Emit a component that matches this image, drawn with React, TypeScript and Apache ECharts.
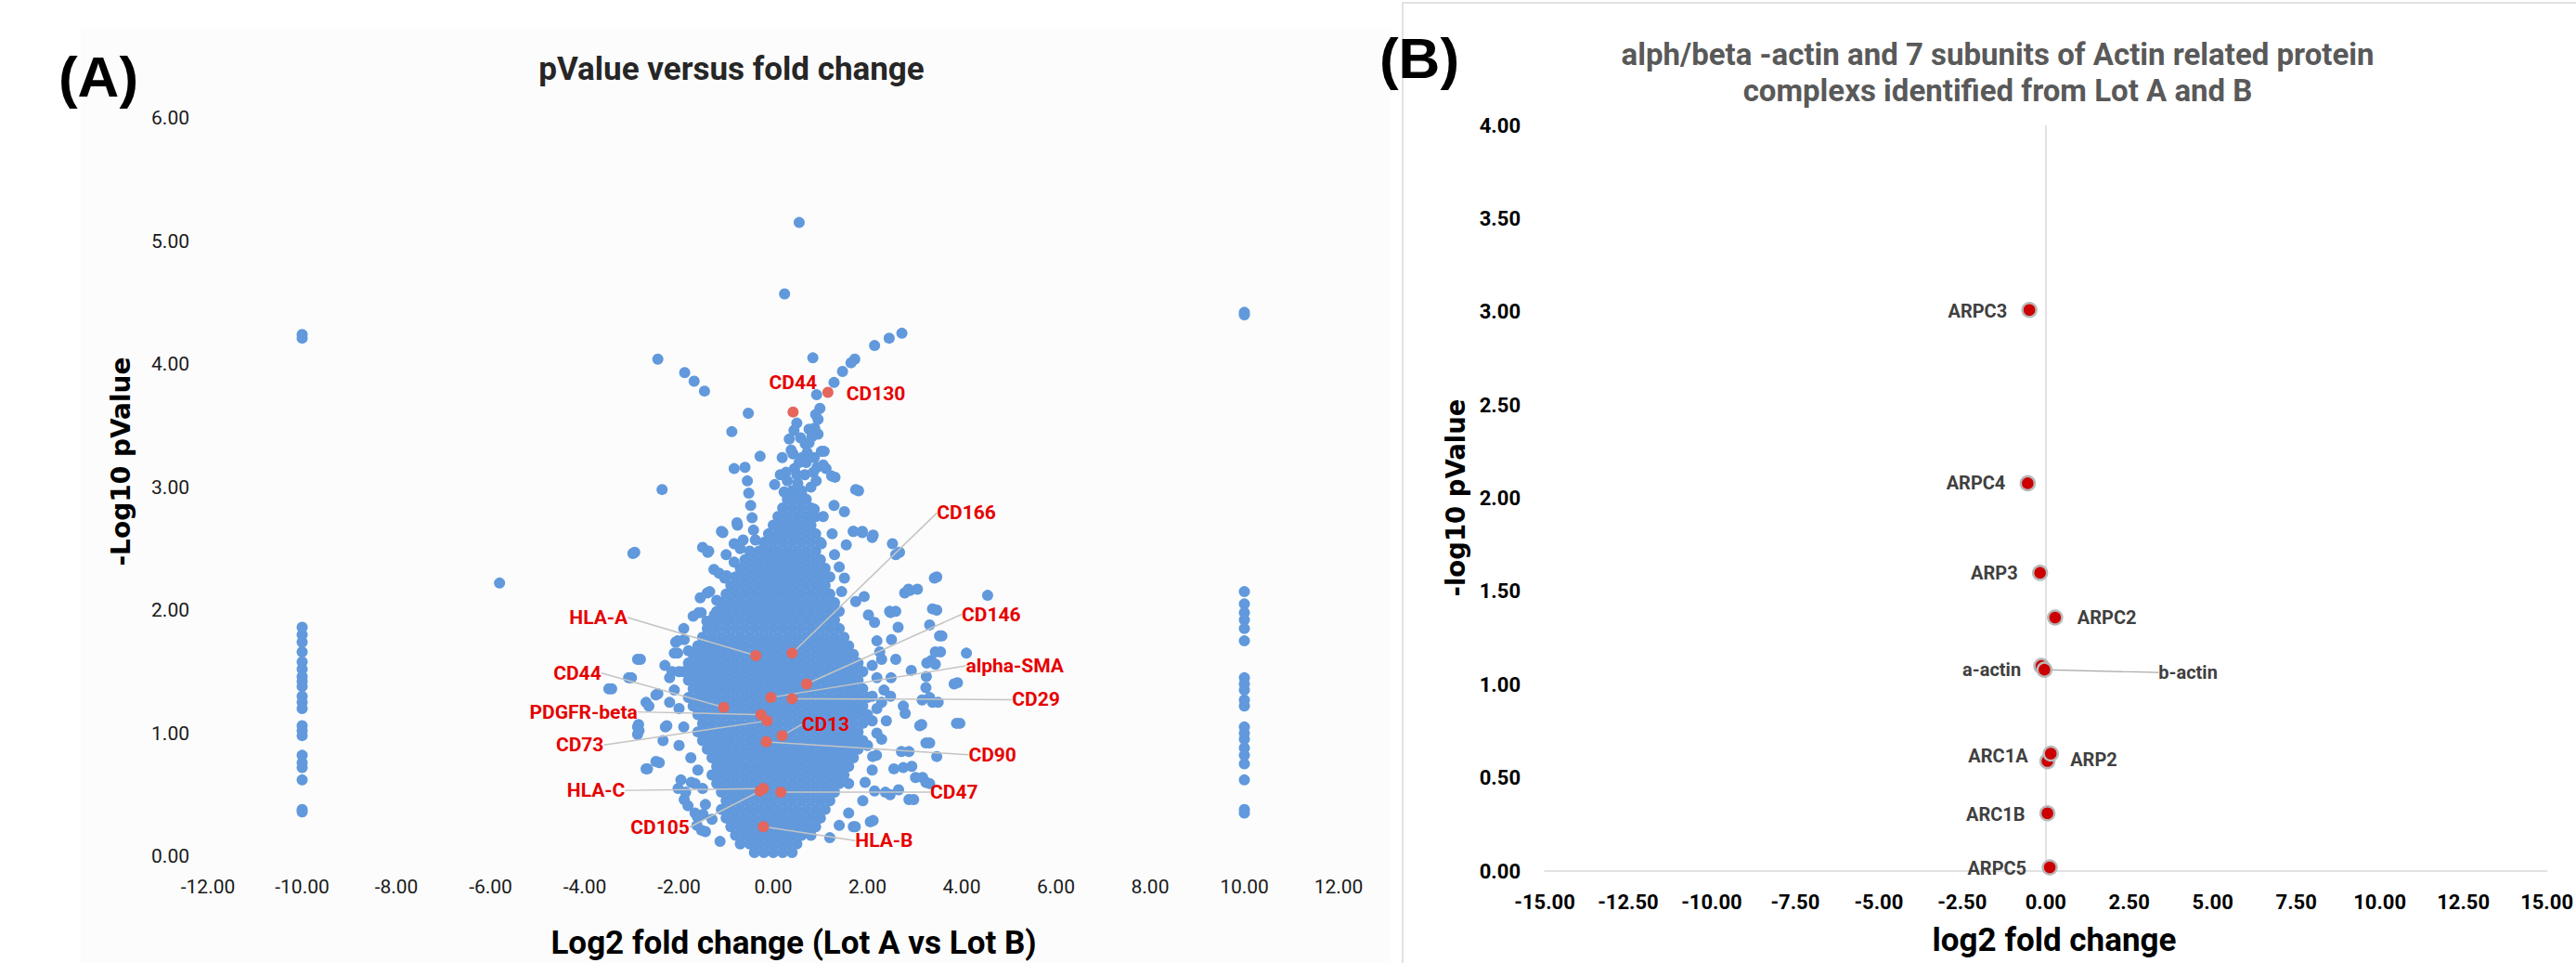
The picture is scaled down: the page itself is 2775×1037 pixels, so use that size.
import React, { useEffect, useRef } from "react";
import * as echarts from "echarts";

// ---------------- Panel A data ----------------
const A_X_MIN = -12;
const A_X_MAX = 12;
const A_X_STEP = 2;
const A_Y_MIN = 0;
const A_Y_MAX = 6;
const A_Y_STEP = 1;

// proteins only seen in one lot (log2 fold change pinned at -10 / +10)
const LEFT_COLUMN_X = -10;
const LEFT_COLUMN_Y = [4.24, 4.21, 1.86, 1.8, 1.74, 1.66, 1.58, 1.52, 1.46, 1.42, 1.38, 1.3, 1.25, 1.2, 1.06, 1.02, 0.98, 0.82, 0.76, 0.72, 0.62, 0.38, 0.36];
const RIGHT_COLUMN_X = 10;
const RIGHT_COLUMN_Y = [4.42, 4.4, 2.15, 2.05, 1.98, 1.92, 1.85, 1.75, 1.45, 1.4, 1.35, 1.27, 1.22, 1.05, 1.0, 0.95, 0.88, 0.82, 0.75, 0.62, 0.38, 0.35];

// scattered proteins read one by one
const SCATTERED_POINTS: [number, number][] = [
  [-5.81, 2.22], [-2.98, 2.46], [-2.36, 2.98], [-2.45, 4.04], [-1.88, 3.93], [-1.68, 3.86], [-1.46, 3.78],
  [-0.88, 3.45], [-0.53, 3.6], [-0.28, 3.25], [0.24, 4.57], [0.55, 5.15], [0.84, 4.05],
  [0.92, 3.75], [0.99, 3.64], [0.9, 3.59], [1.29, 3.85], [1.47, 3.94], [1.65, 4.01], [1.73, 4.04], [2.15, 4.15], [2.46, 4.21], [2.73, 4.25],
  [0.44, 3.46], [0.34, 3.39], [0.68, 3.35], [0.95, 3.43], [0.76, 3.47], [1.08, 3.29], [0.19, 3.24], [0.42, 3.27], [0.61, 3.24],
  [0.87, 3.24], [1.06, 3.18], [1.12, 3.15], [0.27, 3.12], [0.67, 3.1], [1.31, 3.08], [0.91, 3.05], [0.03, 3.02], [1.81, 2.97],
  [0.52, 3.03], [0.23, 2.96], [0.87, 2.82], [1.29, 2.85], [1.51, 2.8], [1.06, 2.76], [1.7, 2.64], [1.89, 2.64], [2.1, 2.59],
  [1.02, 2.54], [1.55, 2.53], [2.53, 2.54], [2.68, 2.47], [-0.76, 2.69], [-1.07, 2.63], [-1.5, 2.51], [-1.37, 2.48], [-2.94, 2.47], [-0.64, 2.57],
  [0.95, 3.55], [0.88, 3.48], [0.82, 3.41], [0.76, 3.36], [0.58, 3.4], [0.5, 3.52], [0.38, 3.3],
  [0.3, 3.05], [0.45, 3.15], [0.55, 3.2], [0.7, 3.2], [0.35, 2.95], [0.6, 2.95], [0.8, 3.0], [0.15, 3.1], [0.5, 3.1], [0.72, 3.28], [0.85, 3.12],
  [-0.83, 3.15], [-0.6, 3.16], [-0.55, 3.05], [-0.52, 2.95], [-0.48, 2.85], [-0.45, 2.75], [-0.42, 2.65], [-0.38, 2.57],
  [-2.88, 1.6], [-3.07, 1.45], [-3.49, 1.36], [-2.49, 1.31], [-2.7, 1.25], [-2.88, 1.05], [-2.88, 0.99], [-2.7, 0.71], [-2.49, 0.77],
  [-2.29, 1.05], [-2.07, 1.74], [-1.89, 1.76], [-1.58, 1.98], [-1.4, 2.14], [-1.03, 2.26], [-0.83, 2.54], [-1.1, 2.64],
  [3.42, 2.26], [4.55, 2.12], [4.1, 1.65], [3.84, 1.4], [3.89, 1.08], [3.53, 1.79], [3.38, 2.01], [3.24, 1.37], [3.11, 1.06],
  [3.24, 0.92], [3.02, 0.64], [2.88, 0.46], [3.24, 0.6], [2.06, 0.28], [1.7, 0.24], [2.9, 2.16], [2.79, 2.14], [2.6, 2.45],
  [2.47, 1.99], [2.65, 1.86], [2.51, 1.76], [3.44, 1.66], [2.93, 1.51], [3.26, 1.57], [3.16, 1.27], [3.38, 1.25], [2.26, 1.66],
  [2.8, 1.16], [2.88, 0.85], [2.56, 0.71], [2.11, 0.81], [2.66, 0.54], [2.38, 0.52], [1.75, 2.07], [2.02, 1.96], [1.93, 2.11], [1.51, 2.26],
  [-2.02, 0.55], [-1.74, 0.6], [-1.89, 0.46], [-1.61, 0.32], [-1.52, 0.21], [-1.49, 0.34], [-2.34, 0.94], [-2.03, 1.65], [-1.8, 1.67],
  [-1.41, 1.91], [-1.25, 1.96], [-1.39, 2.47], [-0.77, 2.71], [-1.26, 2.33], [-0.99, 2.28], [-1.35, 2.15], [-0.83, 2.39], [-1.2, 2.08],
  [-1.53, 1.98], [-2.03, 1.75], [-2.82, 1.6], [-3.01, 1.45], [-3.43, 1.36], [-2.45, 1.32], [-2.64, 1.22], [-2.86, 1.07], [-2.85, 1.02],
  [-2.26, 1.06], [-2.67, 0.71], [-2.42, 0.76], [-1.96, 0.62], [-1.86, 0.52], [-1.66, 0.59], [-1.81, 0.41], [-1.44, 0.42], [-1.66, 0.35],
  [-1.44, 0.2], [-1.62, 0.25], [-1.13, 0.12], [3.47, 2.27], [2.87, 2.17], [3.06, 2.17], [2.6, 1.99], [2.49, 1.98], [3.47, 2.0],
  [3.32, 1.88], [3.58, 1.79], [3.55, 1.66], [3.35, 1.59], [3.44, 1.56], [3.91, 1.41], [3.25, 1.46], [3.32, 1.29], [3.5, 1.25],
  [2.76, 1.22], [2.49, 1.3], [3.15, 1.07], [3.96, 1.08], [3.32, 0.92], [3.47, 0.81], [2.72, 0.85], [2.76, 0.72], [2.94, 0.73],
  [3.17, 0.64], [3.32, 0.59], [2.98, 0.46], [2.15, 0.53], [2.48, 0.5], [2.12, 0.29], [1.74, 0.24], [2.3, 0.95], [2.19, 0.82],
  [2.12, 2.61], [1.89, 2.63], [1.7, 2.64], [1.75, 2.98], [1.24, 3.09], [1.02, 3.29], [0.93, 3.16],
  [2.2, 1.75], [2.3, 1.6], [2.2, 1.45], [2.35, 1.35], [2.2, 1.2], [2.4, 1.1], [2.2, 1.0], [2.5, 1.45], [2.6, 1.6], [2.15, 1.9],
  [2.3, 1.25], [2.1, 1.55], [2.1, 1.3], [2.1, 1.1], [2.0, 0.9], [2.1, 0.7], [1.95, 0.6], [1.9, 0.45], [1.6, 0.35], [1.4, 0.25], [1.2, 0.15],
  [-2.0, 1.5], [-2.1, 1.35], [-2.0, 1.2], [-2.2, 1.45], [-1.9, 1.05], [-2.0, 0.9], [-1.75, 0.8], [-1.6, 0.7], [-1.5, 0.55], [-1.3, 0.3],
  [-2.3, 1.55], [-2.2, 1.25], [-1.9, 1.85], [-1.7, 1.95], [-1.55, 2.1], [-2.1, 1.65], [-2.15, 1.5],
  [1.3, 2.45], [1.4, 2.35], [1.25, 2.62], [1.45, 2.15], [-0.7, 2.5], [-1.0, 2.45], [-1.15, 2.3],
];

// the dense core of the volcano, typed row by row: [-log10 p, log2 fold changes]
const CORE_ROWS: [number, number[]][] = [
  [0.03, [-0.4, -0.2, 0, 0.2, 0.4]],
  [0.10, [-0.7, -0.5, -0.3, -0.1, 0.1, 0.3, 0.5]],
  [0.17, [-0.8, -0.6, -0.4, -0.2, 0, 0.2, 0.4, 0.6, 0.8]],
  [0.24, [-0.9, -0.7, -0.5, -0.3, -0.1, 0.1, 0.3, 0.5, 0.7, 0.9]],
  [0.31, [-1.0, -0.8, -0.6, -0.4, -0.2, 0, 0.2, 0.4, 0.6, 0.8, 1.0]],
  [0.38, [-1.1, -0.9, -0.7, -0.5, -0.3, -0.1, 0.1, 0.3, 0.5, 0.7, 0.9, 1.1]],
  [0.45, [-1.0, -0.8, -0.6, -0.4, -0.2, 0, 0.2, 0.4, 0.6, 0.8, 1.0, 1.2]],
  [0.52, [-1.1, -0.9, -0.7, -0.5, -0.3, -0.1, 0.1, 0.3, 0.5, 0.7, 0.9, 1.1, 1.3]],
  [0.59, [-1.2, -1.0, -0.8, -0.6, -0.4, -0.2, 0, 0.2, 0.4, 0.6, 0.8, 1.0, 1.2, 1.4, 1.6]],
  [0.66, [-1.3, -1.1, -0.9, -0.7, -0.5, -0.3, -0.1, 0.1, 0.3, 0.5, 0.7, 0.9, 1.1, 1.3, 1.5]],
  [0.73, [-1.2, -1.0, -0.8, -0.6, -0.4, -0.2, 0, 0.2, 0.4, 0.6, 0.8, 1.0, 1.2, 1.4, 1.6]],
  [0.80, [-1.3, -1.1, -0.9, -0.7, -0.5, -0.3, -0.1, 0.1, 0.3, 0.5, 0.7, 0.9, 1.1, 1.3, 1.5, 1.7]],
  [0.87, [-1.4, -1.2, -1.0, -0.8, -0.6, -0.4, -0.2, 0, 0.2, 0.4, 0.6, 0.8, 1.0, 1.2, 1.4, 1.6, 1.8]],
  [0.94, [-1.5, -1.3, -1.1, -0.9, -0.7, -0.5, -0.3, -0.1, 0.1, 0.3, 0.5, 0.7, 0.9, 1.1, 1.3, 1.5, 1.7, 1.9]],
  [1.01, [-1.6, -1.4, -1.2, -1.0, -0.8, -0.6, -0.4, -0.2, 0, 0.2, 0.4, 0.6, 0.8, 1.0, 1.2, 1.4, 1.6, 1.8]],
  [1.08, [-1.5, -1.3, -1.1, -0.9, -0.7, -0.5, -0.3, -0.1, 0.1, 0.3, 0.5, 0.7, 0.9, 1.1, 1.3, 1.5, 1.7, 1.9]],
  [1.15, [-1.6, -1.4, -1.2, -1.0, -0.8, -0.6, -0.4, -0.2, 0, 0.2, 0.4, 0.6, 0.8, 1.0, 1.2, 1.4, 1.6, 1.8, 2.0]],
  [1.22, [-1.7, -1.5, -1.3, -1.1, -0.9, -0.7, -0.5, -0.3, -0.1, 0.1, 0.3, 0.5, 0.7, 0.9, 1.1, 1.3, 1.5, 1.7, 1.9]],
  [1.29, [-1.8, -1.6, -1.4, -1.2, -1.0, -0.8, -0.6, -0.4, -0.2, 0, 0.2, 0.4, 0.6, 0.8, 1.0, 1.2, 1.4, 1.6, 1.8, 2.0]],
  [1.36, [-1.7, -1.5, -1.3, -1.1, -0.9, -0.7, -0.5, -0.3, -0.1, 0.1, 0.3, 0.5, 0.7, 0.9, 1.1, 1.3, 1.5, 1.7, 1.9]],
  [1.43, [-1.8, -1.6, -1.4, -1.2, -1.0, -0.8, -0.6, -0.4, -0.2, 0, 0.2, 0.4, 0.6, 0.8, 1.0, 1.2, 1.4, 1.6, 1.8]],
  [1.50, [-1.9, -1.7, -1.5, -1.3, -1.1, -0.9, -0.7, -0.5, -0.3, -0.1, 0.1, 0.3, 0.5, 0.7, 0.9, 1.1, 1.3, 1.5, 1.7, 1.9]],
  [1.57, [-1.8, -1.6, -1.4, -1.2, -1.0, -0.8, -0.6, -0.4, -0.2, 0, 0.2, 0.4, 0.6, 0.8, 1.0, 1.2, 1.4, 1.6, 1.8]],
  [1.64, [-1.7, -1.5, -1.3, -1.1, -0.9, -0.7, -0.5, -0.3, -0.1, 0.1, 0.3, 0.5, 0.7, 0.9, 1.1, 1.3, 1.5, 1.7]],
  [1.71, [-1.6, -1.4, -1.2, -1.0, -0.8, -0.6, -0.4, -0.2, 0, 0.2, 0.4, 0.6, 0.8, 1.0, 1.2, 1.4, 1.6]],
  [1.78, [-1.5, -1.3, -1.1, -0.9, -0.7, -0.5, -0.3, -0.1, 0.1, 0.3, 0.5, 0.7, 0.9, 1.1, 1.3, 1.5]],
  [1.85, [-1.4, -1.2, -1.0, -0.8, -0.6, -0.4, -0.2, 0, 0.2, 0.4, 0.6, 0.8, 1.0, 1.2, 1.4]],
  [1.92, [-1.3, -1.1, -0.9, -0.7, -0.5, -0.3, -0.1, 0.1, 0.3, 0.5, 0.7, 0.9, 1.1, 1.3]],
  [1.99, [-1.2, -1.0, -0.8, -0.6, -0.4, -0.2, 0, 0.2, 0.4, 0.6, 0.8, 1.0, 1.2, 1.4]],
  [2.06, [-1.1, -0.9, -0.7, -0.5, -0.3, -0.1, 0.1, 0.3, 0.5, 0.7, 0.9, 1.1, 1.3]],
  [2.13, [-1.0, -0.8, -0.6, -0.4, -0.2, 0, 0.2, 0.4, 0.6, 0.8, 1.0, 1.2]],
  [2.20, [-0.9, -0.7, -0.5, -0.3, -0.1, 0.1, 0.3, 0.5, 0.7, 0.9, 1.1]],
  [2.27, [-0.8, -0.6, -0.4, -0.2, 0, 0.2, 0.4, 0.6, 0.8, 1.0, 1.2]],
  [2.34, [-0.7, -0.5, -0.3, -0.1, 0.1, 0.3, 0.5, 0.7, 0.9, 1.1]],
  [2.41, [-0.6, -0.4, -0.2, 0, 0.2, 0.4, 0.6, 0.8, 1.0]],
  [2.48, [-0.5, -0.3, -0.1, 0.1, 0.3, 0.5, 0.7, 0.9]],
  [2.55, [-0.2, 0, 0.2, 0.4, 0.6, 0.8, 1.0]],
  [2.62, [-0.1, 0.1, 0.3, 0.5, 0.7, 0.9]],
  [2.69, [0, 0.2, 0.4, 0.6, 0.8]],
  [2.76, [0.1, 0.3, 0.5, 0.7, 0.9]],
  [2.83, [0.2, 0.4, 0.6, 0.8]],
  [2.90, [0.3, 0.5, 0.7]],
  [2.97, [0.4, 0.6]],
];

// highlighted markers (red)
const MARKER_A_NAMES = ["CD44", "CD130", "CD166", "HLA-A", "CD146", "alpha-SMA", "CD29", "CD44", "PDGFR-beta", "CD13", "CD73", "CD90", "HLA-C", "CD105", "CD47", "HLA-B"];
const MARKER_A_X = [0.42, 1.16, 0.4, -0.37, 0.71, -0.05, 0.4, -1.05, -0.26, 0.19, -0.13, -0.15, -0.21, -0.28, 0.16, -0.21];
const MARKER_A_Y = [3.61, 3.77, 1.65, 1.63, 1.4, 1.29, 1.28, 1.21, 1.15, 0.98, 1.1, 0.93, 0.55, 0.53, 0.52, 0.24];

// ---------------- Panel B data ----------------
const B_X_MIN = -15;
const B_X_MAX = 15;
const B_X_STEP = 2.5;
const B_Y_MIN = 0;
const B_Y_MAX = 4;
const B_Y_STEP = 0.5;
const MARKER_B_NAMES = ["ARPC3", "ARPC4", "ARP3", "ARPC2", "a-actin", "b-actin", "ARC1A", "ARP2", "ARC1B", "ARPC5"];
const MARKER_B_X = [-0.49, -0.54, -0.17, 0.28, -0.13, -0.04, 0.05, 0.15, 0.05, 0.12];
const MARKER_B_Y = [3.01, 2.08, 1.6, 1.36, 1.1, 1.08, 0.59, 0.63, 0.31, 0.02];

// ---------------- label placement (style, px offsets from the point) ----------------
type LabelPlace = { dx: number; dy: number; align: "left" | "right" | "center"; line: boolean };
const LABEL_PLACE_A: LabelPlace[] = [
  { dx: 0, dy: -32, align: "center", line: false },
  { dx: 20, dy: 2, align: "left", line: false },
  { dx: 156, dy: -151, align: "left", line: true },
  { dx: -138, dy: -41, align: "right", line: true },
  { dx: 167, dy: -75, align: "left", line: true },
  { dx: 210, dy: -34, align: "left", line: true },
  { dx: 237, dy: 1, align: "left", line: true },
  { dx: -132, dy: -37, align: "right", line: true },
  { dx: -133, dy: -3, align: "right", line: true },
  { dx: 21, dy: -12, align: "left", line: true },
  { dx: -176, dy: 26, align: "right", line: true },
  { dx: 218, dy: 14, align: "left", line: true },
  { dx: -149, dy: 2, align: "right", line: true },
  { dx: -76, dy: 39, align: "right", line: true },
  { dx: 161, dy: 0, align: "left", line: true },
  { dx: 99, dy: 15, align: "left", line: true },
];
const LABEL_PLACE_B: LabelPlace[] = [
  { dx: -24, dy: 1, align: "right", line: false },
  { dx: -24, dy: 0, align: "right", line: false },
  { dx: -24, dy: 0, align: "right", line: false },
  { dx: 24, dy: 0, align: "left", line: false },
  { dx: -22, dy: 4, align: "right", line: false },
  { dx: 123, dy: 3, align: "left", line: true },
  { dx: -21, dy: -6, align: "right", line: false },
  { dx: 21, dy: 6, align: "left", line: false },
  { dx: -24, dy: 1, align: "right", line: false },
  { dx: -25, dy: 1, align: "right", line: false },
];

const UI_FONT = "Roboto, 'Noto Sans', sans-serif";
const TITLE_FONT_Y = "'DejaVu Sans', Verdana, sans-serif";
const LETTER_FONT = "'Liberation Sans', Arial, sans-serif";

function makeLabelLayout(places: LabelPlace[]) {
  return (params: any) => {
    const p = places[params.dataIndex];
    const r = params.rect;
    const cx = r.x + r.width / 2;
    const cy = r.y + r.height / 2;
    const x = cx + p.dx;
    const y = cy + p.dy;
    const res: any = { x, y, align: p.align, verticalAlign: "middle" };
    if (p.line) {
      const s = p.align === "left" ? 1 : -1;
      res.labelLinePoints = [
        [cx, cy],
        [x - s * 18, y],
        [x - s * 6, y],
      ];
    }
    return res;
  };
}

function buildOption() {
  const blue: [number, number][] = [];
  CORE_ROWS.forEach(([y, xs]) => xs.forEach((x) => blue.push([x, y])));
  SCATTERED_POINTS.forEach((p) => blue.push(p));
  LEFT_COLUMN_Y.forEach((y) => blue.push([LEFT_COLUMN_X, y]));
  RIGHT_COLUMN_Y.forEach((y) => blue.push([RIGHT_COLUMN_X, y]));

  const redA = MARKER_A_NAMES.map((n, i) => ({
    name: n,
    value: [MARKER_A_X[i], MARKER_A_Y[i]],
    labelLine: { show: LABEL_PLACE_A[i].line },
  }));
  const redB = MARKER_B_NAMES.map((n, i) => ({
    name: n,
    value: [MARKER_B_X[i], MARKER_B_Y[i]],
    labelLine: { show: LABEL_PLACE_B[i].line },
  }));

  const textEl = (x: number, y: number, text: string, font: string, fill: string, rotation = 0, lineHeight?: number) => ({
    type: "text",
    x,
    y,
    rotation,
    silent: true,
    style: {
      text,
      font,
      fill,
      textAlign: "center",
      textVerticalAlign: "middle",
      align: "center",
      verticalAlign: "middle",
      lineHeight,
    },
  });

  return {
    animation: false,
    backgroundColor: "#ffffff",
    graphic: [
      { type: "rect", z: -10, silent: true, shape: { x: 87, y: 31, width: 1411, height: 1010 }, style: { fill: "#fcfcfc" } },
      { type: "rect", z: -10, silent: true, shape: { x: 1511, y: 3, width: 1400, height: 1100 }, style: { fill: "#ffffff", stroke: "#d9d9d9", lineWidth: 1.5 } },
      textEl(106, 82, "(A)", `bold 62px ${LETTER_FONT}`, "#000000"),
      textEl(1529, 62, "(B)", `bold 62px ${LETTER_FONT}`, "#000000"),
      textEl(788, 74, "pValue versus fold change", `bold 35px ${UI_FONT}`, "#262626"),
      textEl(2152, 78, "alph/beta -actin and 7 subunits of Actin related protein\ncomplexs identified from Lot A and B", `bold 33px ${UI_FONT}`, "#595959", 0, 39),
      textEl(130, 497, "-Log10 pValue", `bold 28px ${TITLE_FONT_Y}`, "#000000", Math.PI / 2),
      textEl(1568, 536, "-log10 pValue", `bold 27.5px ${TITLE_FONT_Y}`, "#000000", Math.PI / 2),
      textEl(855, 1015, "Log2 fold change (Lot A vs Lot B)", `bold 35px ${UI_FONT}`, "#000000"),
      textEl(2213, 1012, "log2 fold change", `bold 35px ${UI_FONT}`, "#000000"),
    ],
    grid: [
      { left: 224, top: 127, width: 1218, height: 795, containLabel: false },
      { left: 1664, top: 135, width: 1098, height: 803, containLabel: false },
    ],
    xAxis: [
      {
        gridIndex: 0,
        type: "value",
        min: A_X_MIN,
        max: A_X_MAX,
        interval: A_X_STEP,
        axisLine: { show: false },
        axisTick: { show: false },
        splitLine: { show: false },
        axisLabel: { formatter: (v: number) => v.toFixed(2), fontFamily: UI_FONT, fontSize: 21, color: "#1a1a1a", margin: 22 },
      },
      {
        gridIndex: 1,
        type: "value",
        min: B_X_MIN,
        max: B_X_MAX,
        interval: B_X_STEP,
        axisLine: { show: true, onZero: false, lineStyle: { color: "#d9d9d9", width: 1.5 } },
        axisTick: { show: false },
        splitLine: { show: false },
        axisLabel: { formatter: (v: number) => v.toFixed(2), fontFamily: UI_FONT, fontSize: 22, fontWeight: "bold", color: "#000000", margin: 22 },
      },
    ],
    yAxis: [
      {
        gridIndex: 0,
        type: "value",
        min: A_Y_MIN,
        max: A_Y_MAX,
        interval: A_Y_STEP,
        axisLine: { show: false },
        axisTick: { show: false },
        splitLine: { show: false },
        axisLabel: { formatter: (v: number) => v.toFixed(2), fontFamily: UI_FONT, fontSize: 21, color: "#1a1a1a", margin: 20 },
      },
      {
        gridIndex: 1,
        type: "value",
        min: B_Y_MIN,
        max: B_Y_MAX,
        interval: B_Y_STEP,
        axisLine: { show: false },
        axisTick: { show: false },
        splitLine: { show: false },
        axisLabel: { formatter: (v: number) => v.toFixed(2), fontFamily: UI_FONT, fontSize: 22, fontWeight: "bold", color: "#000000", margin: 26 },
      },
    ],
    series: [
      {
        type: "scatter",
        xAxisIndex: 0,
        yAxisIndex: 0,
        data: blue,
        symbolSize: 12,
        silent: true,
        itemStyle: { color: "#6199dc", opacity: 1 },
        z: 2,
      },
      {
        type: "scatter",
        xAxisIndex: 0,
        yAxisIndex: 0,
        data: redA,
        symbolSize: 12,
        silent: true,
        itemStyle: { color: "#e4665c", opacity: 1 },
        z: 3,
        label: { show: true, formatter: "{b}", color: "#e60000", fontFamily: UI_FONT, fontWeight: "bold", fontSize: 21 },
        labelLine: { show: true, lineStyle: { color: "#c4c4c4", width: 1.5 } },
        labelLayout: makeLabelLayout(LABEL_PLACE_A),
      },
      {
        type: "scatter",
        xAxisIndex: 1,
        yAxisIndex: 1,
        data: redB,
        symbolSize: 15,
        silent: true,
        itemStyle: { color: "#cc0000", borderColor: "#b8b8b8", borderWidth: 2.5, opacity: 1 },
        z: 3,
        label: { show: true, formatter: "{b}", color: "#404040", fontFamily: UI_FONT, fontWeight: "bold", fontSize: 20 },
        labelLine: { show: true, lineStyle: { color: "#a6a6a6", width: 1.2 } },
        labelLayout: makeLabelLayout(LABEL_PLACE_B),
        markLine: {
          silent: true,
          symbol: "none",
          label: { show: false },
          lineStyle: { color: "#d9d9d9", width: 1.5, type: "solid" },
          data: [{ xAxis: 0 }],
          z: 1,
        },
      },
    ],
  };
}

export default function App() {
  const ref = useRef<HTMLDivElement>(null);
  useEffect(() => {
    document.body.style.margin = "0";
    const chart = echarts.init(ref.current as HTMLDivElement, null, { renderer: "svg" });
    chart.setOption(buildOption() as any);
    return () => chart.dispose();
  }, []);
  return <div ref={ref} style={{ width: 2775, height: 1037 }} />;
}
